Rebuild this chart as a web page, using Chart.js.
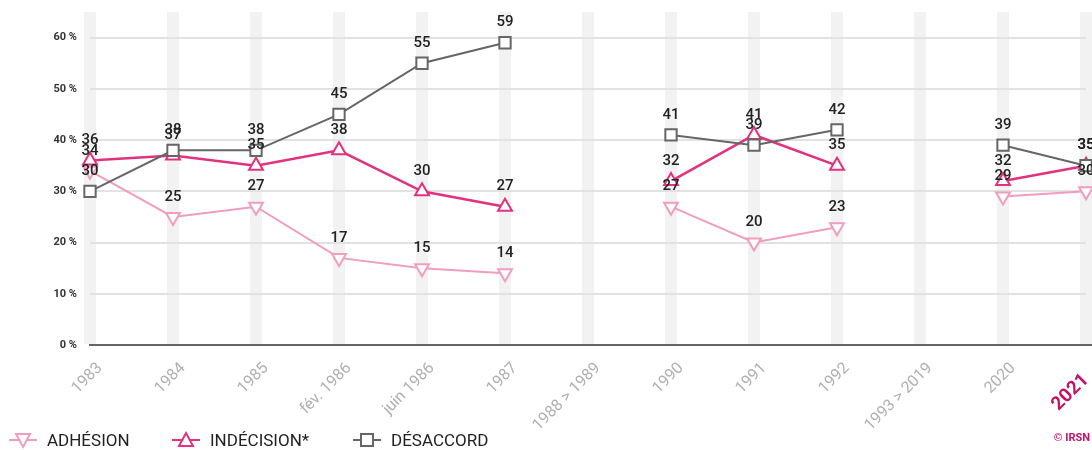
<!DOCTYPE html>
<html>
<head>
<meta charset="utf-8">
<script src="https://cdn.jsdelivr.net/npm/chart.js@4"></script>
<style>
  html, body { margin: 0; padding: 0; background: #fff; }
  #wrap { position: relative; width: 1092px; height: 450px; }
  .leg { position: absolute; top: 428px; height: 24px; display: flex; align-items: center;
         font-family: Roboto, sans-serif; font-size: 17px; color: #222; }
  .leg canvas { margin-right: 10px; }
</style>
</head>
<body>
<div id="wrap">
  <canvas id="myChart" width="1092" height="450"></canvas>
</div>
<script>
var labels = ['1983', '1984', '1985', 'fév. 1986', 'juin 1986', '1987', '1988 > 1989',
              '1990', '1991', '1992', '1993 > 2019', '2020', '2021'];
var adhesion   = [34, 25, 27, 17, 15, 14, null, 27, 20, 23, null, 29, 30];
var indecision = [36, 37, 35, 38, 30, 27, null, 32, 41, 35, null, 32, 35];
var desaccord  = [30, 38, 38, 45, 55, 59, null, 41, 39, 42, null, 39, 35];

var PINK_LIGHT = '#f09dbe';
var PINK = '#e2327d';
var GREY = '#666666';
var MAGENTA = '#c2136b';
var LAST = labels.length - 1;

// labels above each point + copyright
var valueLabels = {
    id: 'valueLabels',
    afterDatasetsDraw: function (chart) {
        var ctx = chart.ctx;
        ctx.save();
        ctx.font = '500 15px Roboto';
        ctx.fillStyle = '#222';
        ctx.textAlign = 'center';
        ctx.textBaseline = 'middle';
        chart.data.datasets.forEach(function (ds, i) {
            chart.getDatasetMeta(i).data.forEach(function (pt, j) {
                var v = ds.data[j];
                if (v == null) return;
                ctx.fillText(v, pt.x, pt.y - 20);
            });
        });
        ctx.restore();
    },
    afterDraw: function (chart) {
        var ctx = chart.ctx;
        ctx.save();
        ctx.font = 'bold 11px Roboto';
        ctx.fillStyle = MAGENTA;
        ctx.textAlign = 'right';
        ctx.textBaseline = 'middle';
        ctx.fillText('© IRSN', 1090, 438);
        ctx.restore();
    }
};

var ctx = document.getElementById('myChart').getContext('2d');
var chart = new Chart(ctx, {
    type: 'line',
    data: {
        labels: labels,
        datasets: [
            { label: 'ADHÉSION', data: adhesion, borderColor: PINK_LIGHT, borderWidth: 2,
              pointStyle: 'triangle', rotation: 180, pointRadius: 8, pointBorderWidth: 2,
              pointBackgroundColor: '#fff', order: 2, clip: false },
            { label: 'INDÉCISION*', data: indecision, borderColor: PINK, borderWidth: 2.5,
              pointStyle: 'triangle', pointRadius: 8, pointBorderWidth: 2,
              pointBackgroundColor: '#fff', order: 1, clip: false },
            { label: 'DÉSACCORD', data: desaccord, borderColor: GREY, borderWidth: 2,
              pointStyle: 'rect', pointRadius: 8, pointBorderWidth: 2,
              pointBackgroundColor: '#fff', order: 0, clip: false }
        ]
    },
    options: {
        responsive: false,
        animation: false,
        devicePixelRatio: 1,
        layout: { autoPadding: false, padding: { top: 12, right: 6, left: 0, bottom: 0 } },
        plugins: { legend: { display: false }, tooltip: { enabled: false } },
        scales: {
            x: {
                grid: { color: '#f2f2f2', lineWidth: 12, drawTicks: false },
                border: { color: GREY, width: 2 },
                ticks: {
                    autoSkip: false, minRotation: 45, maxRotation: 45,
                    padding: 14, labelOffset: 10,
                    color: function (c) { return c.index === LAST ? MAGENTA : '#b0b0b0'; },
                    font: function (c) {
                        return c.index === LAST
                            ? { family: 'Roboto', size: 19, weight: 'bold' }
                            : { family: 'Roboto', size: 16 };
                    },
                    // the last label sits a little lower so it stays inside the canvas
                    callback: function (v, i) { return i === LAST ? labels[i] + '   ' : labels[i]; }
                },
                afterFit: function (s) { s.height = 105; s.paddingLeft = 0; s.paddingRight = 0; }
            },
            y: {
                min: 0, max: 65,
                afterBuildTicks: function (s) {
                    s.ticks = s.ticks.filter(function (t) { return t.value % 10 === 0; });
                },
                ticks: {
                    stepSize: 10, padding: 13, color: '#333',
                    font: { family: 'Roboto', size: 11, weight: 'bold' },
                    callback: function (v) { return v + ' %'; }
                },
                grid: {
                    drawTicks: false, lineWidth: 2,
                    color: function (c) { return c.tick && c.tick.value === 0 ? GREY : '#e2e2e2'; }
                },
                border: { display: false },
                afterFit: function (s) { s.width = 90; s.paddingTop = 0; s.paddingBottom = 0; }
            }
        }
    },
    plugins: [valueLabels]
});

// legend built from the datasets
function makeIcon(ds) {
    var c = document.createElement('canvas');
    c.width = 28; c.height = 22;
    var g = c.getContext('2d');
    g.strokeStyle = ds.borderColor;
    g.lineWidth = 2;
    g.beginPath(); g.moveTo(0, 11); g.lineTo(28, 11); g.stroke();
    g.fillStyle = '#fff';
    g.beginPath();
    if (ds.pointStyle === 'rect') {
        g.rect(8, 5, 12, 12);
    } else if (ds.rotation === 180) {
        g.moveTo(7, 5); g.lineTo(21, 5); g.lineTo(14, 18); g.closePath();
    } else {
        g.moveTo(7, 17); g.lineTo(21, 17); g.lineTo(14, 4); g.closePath();
    }
    g.fill(); g.stroke();
    return c;
}
var legendLeft = [9, 172, 353];
chart.data.datasets.forEach(function (ds, i) {
    var d = document.createElement('div');
    d.className = 'leg';
    d.style.left = legendLeft[i] + 'px';
    d.appendChild(makeIcon(ds));
    d.appendChild(document.createTextNode(ds.label));
    document.getElementById('wrap').appendChild(d);
});
</script>
</body>
</html>
